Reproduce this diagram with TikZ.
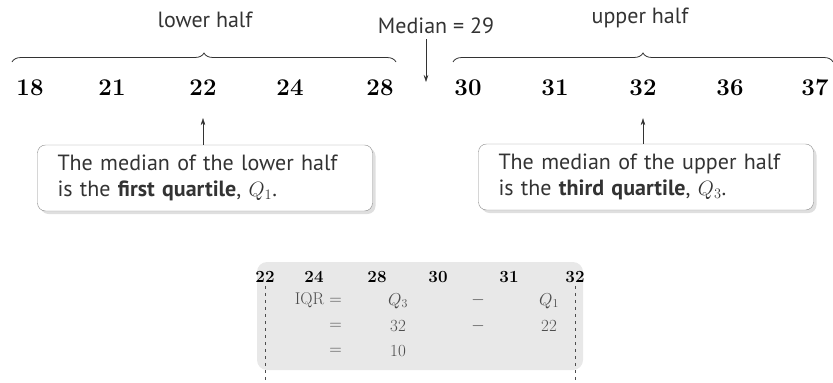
\documentclass[tikz,border=0pt]{standalone}
\usepackage{fontspec}
\newfontfamily\notefont{PT Sans}
\usetikzlibrary{decorations.pathreplacing,shadows,arrows.meta}
\begin{document}
\begin{tikzpicture}[x=1pt,y=-1pt,every node/.style={inner sep=0pt},
  >={Stealth[length=7pt,width=4.5pt]},
  num/.style={font=\fontsize{24}{26}\selectfont\bfseries},
  small/.style={font=\fontsize{17}{19}\selectfont\bfseries},
  note/.style={font=\notefont\fontsize{22}{26}\selectfont,text=black!80},
  callout/.style={draw=black!45,fill=white,rounded corners=8pt,
    drop shadow={shadow xshift=3pt,shadow yshift=-3pt,opacity=0.25},
    minimum height=66pt,inner xsep=20pt,text width=295pt,align=left},
  eqn/.style={font=\fontsize{17}{19}\selectfont,text=black!70}]
\useasboundingbox (0,0) rectangle (833,383);
% data row
\foreach \v/\x [count=\i] in {18/30,21/112,22/203,24/290,28/380,30/468,31/555,32/643,36/730,37/815}
  \node[num] (n\i) at (\x,88) {\v};
% halves
\draw[decorate,decoration={brace,amplitude=9pt},black!80,thick] (12,62) -- (396,62);
\draw[decorate,decoration={brace,amplitude=9pt},black!80,thick] (453,62) -- (833,62);
\node[note] (low) at (205,20) {lower half};
\node[note] (up) at (640,18) {upper half};
\node[note] (med) at (436,26) {Median = 29};
\coordinate (mtip) at (426,82);
\draw[->,black!80,shorten <=5pt] (mtip |- med.south) -- (mtip);
% quartile notes
\node[note,callout] (lbox) at (205,178) {The median of the lower half\\is the \textbf{first quartile}, $Q_1$.};
\node[note,callout] (rbox) at (646,177) {The median of the upper half\\is the \textbf{third quartile}, $Q_3$.};
\draw[->,black!80,shorten >=22pt] (lbox.north -| n3) -- (n3.south);
\draw[->,black!80,shorten >=22pt] (rbox.north -| n8) -- (n8.south);
% IQR panel
\node[fill=black!9,rounded corners=10pt,minimum width=326pt,minimum height=108pt] (panel) at (420,316) {};
\foreach \v/\x [count=\i] in {22/265,24/314,28/377,30/438,31/509,32/575}
  \node[small] (b\i) at (\x,277) {\v};
\draw[dash pattern=on 3pt off 4pt,black!70] ([yshift=-3pt]b1.south) -- (b1.south |- 0,383);
\draw[dash pattern=on 3pt off 4pt,black!70] ([yshift=-3pt]b6.south) -- (b6.south |- 0,383);
\node[eqn,anchor=east] (e1) at (342,300) {IQR $=$};
\node[eqn] (e2) at (398,301) {$Q_3$};
\node[eqn] (e3) at (478,300) {$-$};
\node[eqn] (e4) at (549,301) {$Q_1$};
\node[eqn,anchor=east] (f1) at (342,326) {$=$};
\node[eqn] (f2) at (398,326) {32};
\node[eqn] (f3) at (478,326) {$-$};
\node[eqn] (f4) at (549,326) {22};
\node[eqn,anchor=east] (g1) at (342,351) {$=$};
\node[eqn] (g2) at (398,351) {10};
\end{tikzpicture}
\end{document}
